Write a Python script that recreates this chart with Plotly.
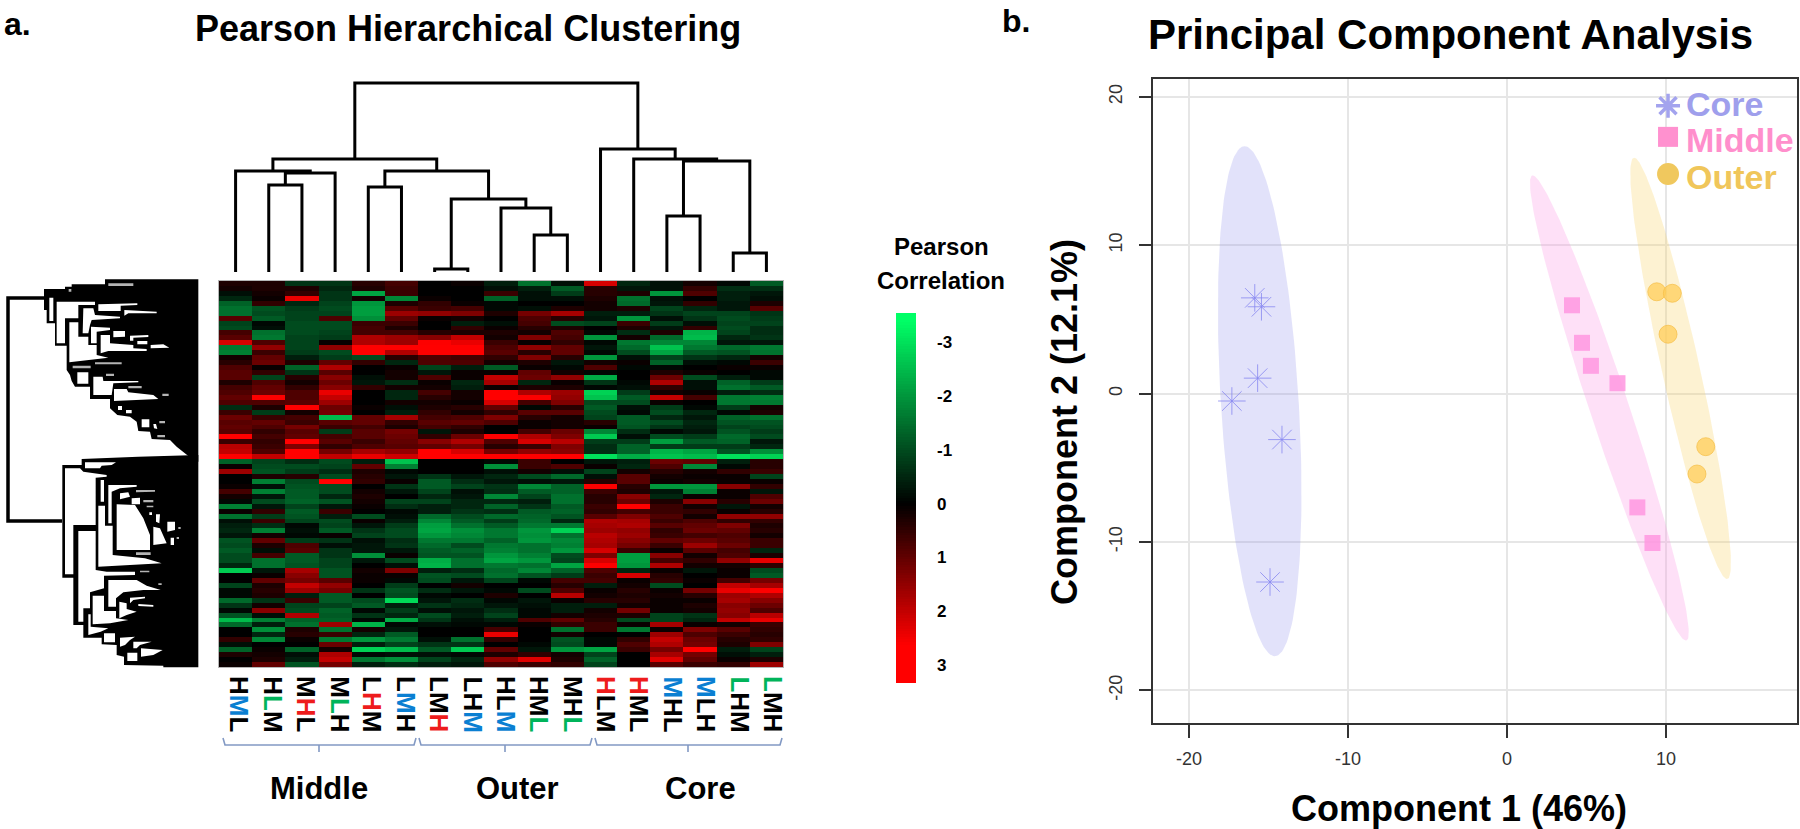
import numpy as np
import plotly.graph_objects as go

FONT = "Liberation Sans"
W, H = 1800, 829

# ---------- heat map values (rows top to bottom, 17 columns) ----------
heat_top = [
 [.3,.3,-.7,-.7,.4,.7,0,.1,-.4,-1.5,-.2,2.2,-.5,-.2,.2,-.1,-1.2],
 [.2,.3,.3,-.5,.3,.6,0,0,-.2,-.4,-1.2,.4,-.3,-.2,.5,-.6,-.6],
 [-.2,.2,.5,-.7,-2.2,.6,0,0,.6,-.2,-.8,.4,.3,-2,.8,-.4,-.3],
 [-.5,.1,2.4,-.7,.2,-1.8,.1,0,-1.3,-.2,-.2,.3,-1.5,-.2,0,-.4,-.2],
 [-1.3,.5,-.5,-.9,-2,.3,.5,.1,-.1,0,0,.2,-1.4,-.3,.5,-.3,.3],
 [-1.5,-1.1,-.8,-1,-2.1,.9,.6,.7,-.1,-.2,.3,.2,.3,-.9,-.5,-.3,.9],
 [-1.5,-1,-.9,-.9,-2.1,1.6,1.5,1.3,.3,1.2,1.7,-.4,-.4,-.7,-.9,-.9,-.7],
 [.9,-1.2,-.9,.8,-1.9,1,.1,.2,0,.8,.4,-.3,-2,-.2,-.7,-1,-.8],
 [-.9,-.1,-1,-1,.6,.6,0,-.4,-.2,.7,-1,-.9,.6,-.8,-.2,-.9,-.9],
 [-1,-.2,-1,-1,.7,.3,0,.5,.1,.4,.3,0,.3,-.3,.5,-1,-.6],
 [.7,-1.5,-1,-.9,.7,.7,.4,.3,.3,.2,.8,-.1,-.6,.3,-2.4,-.9,-.6],
 [.9,-1.6,-.9,-.8,1.8,1.6,1.4,2,.2,1.3,.7,-2,.2,-1.4,-2.5,-.5,-.7],
 [2.2,.8,-.9,.1,1.8,1.6,2.6,2.4,.6,.1,.5,-.1,-1.6,-1.8,-1.8,-.3,-.3],
 [-1.6,1.5,-.9,1.5,3,2.8,3,3,.8,1.5,1,-.3,-1.4,-2.6,-1.6,-1.4,-1.6],
 [-1.7,.6,-.8,-1,2.6,1.8,2.6,2.8,.9,.4,1,-.1,-1,-2.2,-1.2,-1.1,-1.5],
 [.2,1,-.4,-.8,-1,.4,.8,.7,.5,1.3,.4,-2,-.2,-.9,-.7,-.5,.2],
 [.4,1.1,.3,1,.5,-.5,.8,.8,.2,.3,-.3,.2,.1,-1.3,-.2,-.1,.6],
 [.8,.1,-1.3,1.8,0,.1,-.9,-.4,-1.2,.1,-.1,.8,-.1,-.1,0,.1,.1],
 [.9,.5,-.7,.9,0,.2,-.3,.1,.1,1,.2,-.1,0,.3,.1,0,-.1],
 [.9,-.9,.4,1.4,-.2,.2,.8,.1,2,1.1,1.5,-2.3,0,1.1,-1,-.4,-.1],
 [.3,.8,.2,1.1,-.3,-.6,.1,-.5,1.7,-.5,.1,-.7,-.1,1.8,-.2,-1.3,-.8],
 [.7,1,.5,1.4,.5,.2,.2,-.4,.1,.3,.3,-.1,-.2,.5,-.2,-1.5,-1.2],
 [.8,1.1,.8,2.4,0,-.5,.7,.2,3,1.8,1.6,-2.8,-.8,.2,.1,-.4,-.6],
 [1,2.6,.8,2,0,-.5,.4,.2,3,2.6,1.5,-2.6,-1.2,2,.7,-1.6,-1.7],
 [.8,.8,.9,1.6,0,.2,.2,.1,2.2,.7,1.3,-1,-1,.1,0,-1.6,-1.6],
 [-.6,.3,2.9,1.1,.1,-.2,.3,.4,1,-.1,.4,-1.2,-.2,-.8,-.1,-.8,.2],
]
heat_mid = [
 [.6,-.8,.2,1.2,0,-.4,.5,.2,.5,.9,.9,-1,-.1,-1,-.5,-.1,.3],
 [1.1,.6,.7,-2.5,1,1.7,.7,.8,1.3,.4,.2,-.9,-1.2,-.5,-.3,-1.3,-1.5],
 [.9,1,.6,.9,1,.5,.9,1,.8,.1,.2,.4,-1.2,-1,-.5,-1.1,-1.1],
 [1,.8,1.2,.6,.7,.3,.7,.5,0,.1,.2,.1,-1.1,-.7,-.4,-.9,-1],
 [.9,.5,.9,-.8,.9,1.2,-.3,.3,0,.7,1.1,-1.8,-.6,-.1,-.3,-1.1,-.8],
 [2.8,.7,1,.7,.9,1.1,.5,1.1,2.6,1.8,1.3,-2.7,-.2,-1,-.8,-1.4,-1],
 [.6,.5,2.9,.9,.6,1,1.4,1.8,.8,2.2,1.9,-.8,-.8,-2.1,-1.2,-1.3,-.3],
 [1.9,.6,1.3,.5,.8,.9,1,1.2,.4,.6,1.3,-.6,-1.3,-.8,-.8,-.8,-.5],
 [2,.8,2.9,1.2,1.7,1.5,2.9,2.2,1.2,1.5,1.4,-.6,-1.3,-2.4,-2.2,-1.1,-1.9],
 [3,2,2.7,2,2.4,2.1,3,3,2.7,3,3,-3,-2.3,-2.6,-2.5,-3,-2.8],
 [-1.3,-.9,-.6,-1,-.4,-2.6,0,0,-.1,.6,0,-.3,-.4,1.1,1,-.4,.4],
 [.1,-1,-1,-.9,1,-1.7,0,0,-1.9,.6,.8,.1,-.5,.8,-1.8,-.1,.4],
 [1.6,-1.1,-.8,-.6,.3,-.1,0,0,-.2,.2,-.2,-.9,.2,.4,.2,.5,.6],
 [0,.3,.4,-1,.4,-.3,-.7,-.3,-.5,-1,-1.4,-.2,.9,.2,.1,.1,-.9],
 [0,-1.7,-1,2.8,.5,.1,-1.2,-.6,-.3,-.2,-.3,.4,.9,.1,.2,.1,.1],
 [.1,-.2,-1.1,-1,0,-.7,-1.2,-.9,-.7,-1.8,-1.3,2.6,.4,-2,-2,1.4,.5],
 [.7,-1.7,-1.2,-1,.2,-.3,-.9,-.2,-.6,-1.2,-1.3,.6,.3,-.3,-1.7,.1,-.3],
 [.2,-.3,-1.2,-.5,.3,0,-.5,-.3,-1.8,-.9,-1.5,.4,1.4,-.5,.1,.1,.8],
 [-.1,-1,-1.3,-1.1,.2,-.9,-.9,-.5,-.5,-.4,-1.5,.4,1.1,.3,1.4,.4,1.1],
 [-1.7,-.3,-.9,-.3,.1,-.6,-.4,-.5,-1.3,-.7,-1.2,.6,2.8,.6,.2,-.3,.2],
 [.1,.5,-1.2,.6,0,-.1,-.4,-.7,-.6,-1.2,-1.3,.5,.7,.6,.5,.1,.4],
 [-1.5,-.8,-1.1,-.4,-1,-.2,-1.4,-1,-1.4,-1.3,-1.1,.9,1.3,.8,.2,1.5,1.5],
 [-.2,.6,-.9,-1,.1,-.4,-1.8,-1.2,-.8,-1.4,-.5,1.8,1.7,.6,.8,.5,.5],
 [-.4,-.6,-.1,-.9,-.3,-.8,-2.1,-1.5,-1.2,-1.6,-1.6,1.7,1.8,.9,1,1.3,.3],
 [-.5,-1.7,-.2,-1.2,-.7,-1,-2.2,-1.9,-1.6,-2,-2.8,1.6,1.5,.5,1.1,1,.4],
 [-.3,.2,-.1,.1,-.9,-1,-2,-1.8,-1.6,-1.9,-1.5,1.9,1.6,.6,.7,.8,.2],
]
heat_low = [
 [-1.1,1,-.8,-.7,-.2,-.6,-1.6,-1.6,-1.3,-2,-1.8,1.8,1.4,1,1.1,.9,.6],
 [-1,.3,.8,-.2,-.3,-.7,-1.4,-1,-1.6,-1.5,-1.7,1.7,1.2,.6,1.6,1.1,.6],
 [-1.2,-.2,.9,-.7,-.3,-.3,-1.2,-1.3,-1.7,-1.5,-2,2.2,.6,.1,.9,.7,-.5],
 [-1,.7,-1.2,-.7,-1.9,.1,-1.1,-1.1,-2,-1.7,-1,1.3,-2.1,1.4,.2,.8,.3],
 [-1,-1.5,-1.2,-.9,-.3,-1,-2.3,-1.5,-2.2,-2,-.9,2.2,-2.1,.7,.5,1.5,2.4],
 [-.5,-1.5,-1.1,-.9,0,-.2,-2.4,-1.5,-1.6,-1.5,-2.2,2.6,-2,1.8,.2,.2,.5],
 [-2.7,-.3,1.7,-1.1,.2,1.3,-.4,-.6,-1.4,-1.8,-1.3,.8,-.5,.1,-.3,.1,-1],
 [0,.1,1.4,-1.1,.1,.1,-1.1,-1,-1.5,-1.1,-.8,.6,2.2,.4,0,.1,-1.2],
 [0,1,1.2,.9,.1,-.1,-1,-.3,-.9,-.1,.7,.7,.1,.5,.1,.7,1.2],
 [-.9,.3,2,1.5,0,-.8,0,.2,0,0,.4,-.4,.2,-1,0,2,1.7],
 [-.1,.4,1.6,1.2,-.7,-1.1,-.6,-.3,-.1,-1,.8,.1,.4,.1,1.2,2.4,3],
 [-.1,.3,-.4,-1.2,0,-1,-.1,0,.3,0,1.9,.2,.3,.2,.4,1.6,1.8],
 [-1.4,-.7,.6,-1.2,-1,-2.9,-.3,-.6,-.1,-.3,.1,.4,.4,.1,.1,1.7,1.4],
 [-.7,.2,-.9,-.9,-1.2,-.4,-.7,-.5,-.3,-.2,-.4,-.4,.2,.1,.3,1.4,1.1],
 [-.1,1.4,-1,-1.3,-.1,-.8,-.2,-.3,-.6,-.1,-.4,.2,1.2,.1,.2,1.5,.8],
 [-1.1,-.2,1.8,-1.2,-.7,-.5,-1,-.4,-.9,-.1,.2,.3,.3,-.9,-.7,1.4,1.9],
 [-2.5,-1.7,-1.3,-1.3,-.1,-2.3,-.7,-.2,-.4,.8,1,.4,-1,-.9,-.5,2,2.4],
 [-1.4,-.4,-1.5,1.6,-2.4,-.1,-.2,-.1,-.1,.1,.5,.6,.1,1.7,.1,.2,.6],
 [0,-1.9,.3,-1.5,.2,-.3,0,0,.7,0,-1.5,.6,-1.6,.1,1.3,.9,.5],
 [0,-.5,.4,.6,-.5,-1.2,0,0,2.4,0,.2,0,0,1.6,.8,.6,.4],
 [.5,-1.8,.1,-1.6,-2,-1.6,-.2,-1.5,.5,0,-1.1,-.1,.5,2,1.1,.4,.5],
 [-.2,0,0,1.1,-.4,-.9,-.7,-.7,0,-.1,-1,-.1,.8,1.8,1.2,.3,1.3],
 [-1.3,.1,-1.3,.2,-2.8,-2.5,-1.2,-2.7,1,-.3,-2,-2.2,.6,1.2,3,-.4,-.9],
 [.3,.2,-.2,1.8,-.1,-.2,-.2,-.1,.3,.5,.2,-.9,0,1.7,1.2,-.2,-.4],
 [0,.3,-.4,2,-1.6,-1.9,-.9,-.5,1.5,2.3,.3,-1.3,0,2.3,1,.1,.3],
 [.1,1,-1.1,1.2,-.4,-.6,-.4,-.3,.8,.6,.5,-.9,0,.9,.6,.5,1.6],
]
heat_rows = heat_top + heat_mid + heat_low
corr_ticks = [-3, -2, -1, 0, 1, 2, 3]
corr_labels = ["-3", "-2", "-1", "0", "1", "2", "3"]
BLUE, RED_L, GREEN_L, BLK = "#0a7fd2", "#ee1c1c", "#00b45a", "#000000"
column_letters = ["HML","HLM","MHL","MLH","LHM","LMH","LMH","LHM","HLM","HML","MHL","HLM","HML","MHL","MLH","LHM","LMH"]
column_accent = [1,1,1,1,1,1,2,2,2,2,2,0,0,0,0,0,0]
label_px = [239,272.7,306,339.7,372,406,439,472.5,506,539,573,606,639,672.6,706,739.6,773]
groups = ["Middle", "Outer", "Core"]
group_label_px = [319, 517, 700]
bracket_edges_px = [(223, 416, 319), (419, 592, 505), (595, 782, 688)]

# ---------- column tree: leaves 0..16, nodes 17.. ; (left, right, height) ----------
column_merges = [
 (1,2,87),(17,3,99),(0,18,101),(4,5,85),(6,7,3),(9,10,37),(8,22,64),(21,23,73),
 (20,24,101),(19,25,113),(13,14,56),(15,16,19),(27,28,111),(12,29,113),(11,30,123),(26,31,189),
]

# ---------- row tree silhouette, read in zoom units ----------
tree_up_outline = [(225,13),(505,13),(505,560),(325,548),(475,543),(440,515),(420,495),(365,492),(360,470),(325,468),(320,440),(300,425),(262,420),(240,400),(240,372),(180,372),(180,335),(135,335),(125,318),(120,300),(110,285),(110,212),(75,212),(75,145),(50,145),(50,105),(42,105),(42,42),(105,42),(105,35),(125,35),(125,28),(225,28)]
tree_up_holes = [
 [(58,68),(70,68),(70,138),(58,138)],
 [(80,80),(195,80),(195,90),(145,90),(145,130),(105,130),(105,205),(80,205)],
 [(118,142),(145,142),(145,185),(175,185),(175,210),(200,210),(200,240),(235,248),(118,262)],
 [(160,100),(190,100),(195,120),(270,125),(270,130),(185,135),(180,150),(175,175),(158,175)],
 [(205,88),(322,85),(322,90),(272,92),(272,108),(205,108)],
 [(283,105),(380,110),(380,115),(295,115),(283,122)],
 [(183,155),(240,158),(240,165),(200,170),(200,205),(183,205)],
 [(250,168),(285,168),(285,185),(250,187)],
 [(212,180),(240,180),(240,205),(310,210),(310,220),(350,222),(350,228),(235,228),(212,235)],
 [(300,182),(355,180),(355,186),(310,188),(310,197),(300,197)],
 [(322,198),(352,198),(352,208),(322,208)],
 [(362,210),(400,208),(418,218),(362,220)],
 [(142,292),(175,292),(175,326),(142,326)],
 [(190,305),(218,305),(220,318),(325,318),(325,322),(250,325),(245,360),(190,360)],
 [(252,342),(290,342),(295,352),(370,360),(385,372),(252,378)],
 [(264,393),(276,393),(276,405),(264,405)],
 [(288,405),(305,405),(305,415),(288,415)],
 [(335,433),(358,433),(358,457),(335,457)],
 [(370,447),(378,447),(382,462),(372,460)],
]
tree_up_slivers = [
 [(235,25),(310,25),(310,33),(235,33)],[(116,42),(124,42),(124,50),(116,50)],
 [(195,262),(275,262),(275,268),(195,268)],[(128,272),(182,272),(182,280),(128,280)],
 [(228,296),(252,296),(252,303),(228,303)],[(295,333),(335,333),(335,340),(295,340)],
 [(397,356),(416,356),(416,363),(397,363)],[(388,438),(405,438),(405,445),(388,445)],
 [(382,480),(405,480),(405,487),(382,487)],
]
tree_low_outline = [(325,5),(505,0),(505,637),(400,637),(400,632),(282,630),(282,605),(260,600),(260,570),(215,568),(215,548),(160,548),(160,510),(130,510),(130,368),(97,368),(97,30),(155,30),(155,12)]
tree_low_holes = [
 [(165,22),(258,22),(245,30),(215,32),(210,40),(165,40)],
 [(105,40),(150,40),(160,50),(230,60),(230,65),(197,68),(197,210),(130,210),(130,358),(105,358)],
 [(145,228),(197,228),(197,345),(230,350),(315,350),(315,360),(222,362),(222,400),(180,412),(180,460),(160,460),(160,500),(145,500)],
 [(212,75),(222,75),(222,140),(212,140)],
 [(205,152),(225,152),(225,212),(248,212),(248,300),(310,305),(345,310),(395,325),(232,332),(205,335)],
 [(235,90),(320,90),(320,95),(270,100),(245,110),(245,205),(235,205)],
 [(270,115),(295,112),(300,125),(270,133)],
 [(305,130),(330,128),(330,148),(305,148)],
 [(260,148),(315,150),(340,190),(360,240),(360,285),(260,285)],
 [(358,172),(366,172),(366,180),(358,180)],
 [(378,178),(390,178),(388,205),(378,200)],
 [(370,215),(390,220),(410,265),(370,270)],
 [(412,200),(435,200),(435,225),(412,230)],
 [(422,248),(432,248),(432,270),(422,270)],
 [(235,375),(320,375),(350,392),(392,405),(340,405),(280,412),(258,430),(258,455),(235,455)],
 [(188,422),(222,422),(222,468),(258,468),(258,490),(295,495),(240,505),(188,508)],
 [(300,428),(345,425),(345,430),(310,435),(300,445)],
 [(268,440),(290,445),(290,462),(320,470),(290,480),(268,490)],
 [(325,447),(370,450),(370,455),(325,453)],
 [(175,478),(182,478),(182,515),(235,520),(212,530),(175,540)],
 [(222,535),(255,535),(255,562),(222,562)],
 [(270,548),(315,545),(300,555),(285,570),(270,575)],
 [(310,560),(365,560),(330,570),(320,580),(310,580)],
 [(333,580),(398,585),(370,600),(333,605)],
 [(292,593),(322,593),(322,618),(292,618)],
]
tree_low_slivers = [
 [(318,105),(375,105),(375,110),(318,112)],[(340,135),(370,135),(370,142),(340,142)],
 [(350,152),(370,152),(370,157),(350,157)],[(445,216),(452,216),(452,222),(445,222)],
 [(440,246),(447,246),(447,252),(440,252)],[(318,292),(362,292),(362,300),(318,300)],
 [(330,347),(358,347),(358,352),(330,352)],[(385,385),(395,385),(395,390),(385,390)],
]
tree_root_x = [44, 8, 8, 62]
tree_root_y = [298, 298, 521, 521]

# ---------- PCA ----------
core_x = [-15.86,-15.44,-15.68,-17.3,-14.15,-14.9]
core_y = [6.45,5.85,1.04,-0.5,-3.1,-12.7]
middle_x = [4.09,4.72,5.28,6.95,8.2,9.15]
middle_y = [5.95,3.42,1.87,0.7,-7.67,-10.07]
outer_x = [9.42,10.4,10.13,12.5,11.95]
outer_y = [6.86,6.76,4.0,-3.58,-5.42]
core_ellipse = ((-16.5,16.67),(-14.6,-17.7),2.45)
middle_ellipse = ((1.62,14.7),(11.26,-16.65),1.3)
outer_ellipse = ((8.0,15.9),(13.84,-12.5),1.22)
pca_xticks = [-20,-10,0,10]
pca_xlabels = ["-20","-10","0","10"]
pca_yticks = [-20,-10,0,10,20]
pca_ylabels = ["-20","-10","0","10","20"]
legend_names = ["Core","Middle","Outer"]
legend_x = [10.13,10.13,10.13]
legend_y = [19.4,17.3,14.8]

fig = go.Figure()

def px(a, b):
    return [a / W, b / W]
def py(top, bottom):
    return [1 - bottom / H, 1 - top / H]

HM_L, HM_R, HM_T, HM_B = 219, 783, 281, 667

scale = [[0, "#00ff66"], [0.5, "#000000"], [0.885, "#ff0000"], [1, "#ff0000"]]
fig.add_trace(go.Heatmap(z=heat_rows, x=list(range(17)), y=list(range(len(heat_rows))),
                         zmin=-3.4, zmax=3.4, colorscale=scale, showscale=False,
                         xaxis="x", yaxis="y", hoverinfo="skip"))

pos = {i: i for i in range(17)}
tops = {i: 0 for i in range(17)}
tx, ty = [], []
for n, (a, b, h) in enumerate(column_merges):
    tx += [pos[a], pos[a], pos[b], pos[b], None]
    ty += [tops[a], h, h, tops[b], None]
    pos[17 + n] = (pos[a] + pos[b]) / 2
    tops[17 + n] = h
fig.add_trace(go.Scatter(x=tx, y=ty, mode="lines", line=dict(color="black", width=3), xaxis="x2", yaxis="y2", hoverinfo="skip", showlegend=False))

levels = np.linspace(-3.54, 3.33, 140)
fig.add_trace(go.Heatmap(z=[[v] for v in levels], x=[0], y=levels, zmin=-3.4, zmax=3.4, colorscale=scale,
                         showscale=False, xaxis="x3", yaxis="y3", hoverinfo="skip"))

def up(poly):
    return [30 + p[0] / 3 for p in poly], [275 + p[1] / 3 for p in poly]
def low(poly):
    return [30 + p[0] / 3 for p in poly], [455 + p[1] / 3 for p in poly]
def polys(lst, f):
    xs, ys = [], []
    for p in lst:
        a, b = f(p)
        xs += a + [a[0], None]
        ys += b + [b[0], None]
    return xs, ys
def fill_trace(xs, ys, color):
    fig.add_trace(go.Scatter(x=xs, y=ys, mode="lines", fill="toself", fillcolor=color, line=dict(width=0, color=color),
                             xaxis="x5", yaxis="y5", hoverinfo="skip", showlegend=False))
xs, ys = polys([tree_up_outline], up); fill_trace(xs, ys, "#000000")
xs, ys = polys([tree_low_outline], low); fill_trace(xs, ys, "#000000")
xs, ys = polys(tree_up_holes, up); fill_trace(xs, ys, "#ffffff")
xs, ys = polys(tree_low_holes, low); fill_trace(xs, ys, "#ffffff")
xs, ys = polys(tree_up_slivers, up); fill_trace(xs, ys, "#b4b4b4")
xs, ys = polys(tree_low_slivers, low); fill_trace(xs, ys, "#b4b4b4")
fig.add_trace(go.Scatter(x=tree_root_x, y=tree_root_y, mode="lines", line=dict(color="black", width=3.5), xaxis="x5", yaxis="y5", hoverinfo="skip", showlegend=False))

bx, by = [], []
for l, r, m in bracket_edges_px:
    bx += [l, l + 2, r - 2, r, None, m, m, None]
    by += [738, 745, 745, 738, None, 745, 752, None]
fig.add_trace(go.Scatter(x=bx, y=by, mode="lines", line=dict(color="#8299c4", width=1.6), xaxis="x5", yaxis="y5", hoverinfo="skip", showlegend=False))

def ellipse(spec):
    (tx_, ty_), (bx_, by_), hw = spec
    c = np.array([(tx_ + bx_) / 2, (ty_ + by_) / 2])
    a = np.array([tx_ - bx_, ty_ - by_]) / 2
    t = np.linspace(0, 2 * np.pi, 180)
    return c[0] + a[0] * np.cos(t) + hw * np.sin(t), c[1] + a[1] * np.cos(t)
for spec, col in [(core_ellipse, "rgba(140,140,235,0.25)"), (middle_ellipse, "rgba(250,140,225,0.27)"), (outer_ellipse, "rgba(248,208,90,0.27)")]:
    ex, ey = ellipse(spec)
    fig.add_trace(go.Scatter(x=ex, y=ey, mode="lines", fill="toself", fillcolor=col, line=dict(width=0), xaxis="x4", yaxis="y4", hoverinfo="skip", showlegend=False))
core_col = "rgba(135,135,240,0.8)"
fig.add_trace(go.Scatter(x=core_x, y=core_y, mode="markers", marker=dict(symbol="asterisk-open", size=23, color=core_col, line=dict(color=core_col, width=1)), xaxis="x4", yaxis="y4", hoverinfo="skip", showlegend=False))
fig.add_trace(go.Scatter(x=middle_x, y=middle_y, mode="markers", marker=dict(symbol="square", size=16, color="rgba(255,150,225,0.85)"), xaxis="x4", yaxis="y4", hoverinfo="skip", showlegend=False))
fig.add_trace(go.Scatter(x=outer_x, y=outer_y, mode="markers", marker=dict(symbol="circle", size=18, color="rgba(255,205,90,0.75)", line=dict(color="rgba(245,190,70,0.7)", width=1)), xaxis="x4", yaxis="y4", hoverinfo="skip", showlegend=False))
fig.add_trace(go.Scatter(x=legend_x[:1], y=legend_y[:1], mode="markers", marker=dict(symbol="asterisk-open", size=20, color="#a3a3ee", line=dict(color="#a3a3ee", width=3.5)), xaxis="x4", yaxis="y4", hoverinfo="skip", showlegend=False))
fig.add_trace(go.Scatter(x=legend_x[1:2], y=legend_y[1:2], mode="markers", marker=dict(symbol="square", size=20, color="#ff91cf"), xaxis="x4", yaxis="y4", hoverinfo="skip", showlegend=False))
fig.add_trace(go.Scatter(x=legend_x[2:], y=legend_y[2:], mode="markers", marker=dict(symbol="circle", size=22, color="#f0c85e"), xaxis="x4", yaxis="y4", hoverinfo="skip", showlegend=False))

ann = []
def text(x, y, s, size, bold=True, color="#000000", angle=0, anchor="center"):
    ann.append(dict(x=x / W, y=1 - y / H, xref="paper", yref="paper", text=f"<b>{s}</b>" if bold else s, showarrow=False,
                    font=dict(family=FONT, size=size, color=color), textangle=angle, xanchor=anchor, yanchor="middle"))
text(2, 24, "a.", 32, anchor="left")
text(1000, 21, "b.", 32, anchor="left")
text(468, 29, "Pearson Hierarchical Clustering", 36)
text(1450, 35, "Principal Component Analysis", 42)
text(941, 247, "Pearson", 24)
text(941, 280, "Correlation", 24)
ACC_COL = {"H": RED_L, "M": BLUE, "L": GREEN_L}
for i, word in enumerate(column_letters):
    k = column_accent[i]
    s = "".join(f'<span style="color:{ACC_COL[ch] if j == k else BLK}">{ch}</span>' for j, ch in enumerate(word))
    text(label_px[i], 704, s, 26, bold=True, angle=90)
for g, off in zip(groups, group_label_px):
    text(off, 788, g, 31)
text(1459, 808, "Component 1 (46%)", 36)
text(1064, 422, "Component 2 (12.1%)", 36, angle=-90)
for n, c, y in zip(legend_names, ["#9f9fec", "#ff8fcc", "#f0c65a"], [104, 140, 177]):
    text(1684, y, n, 34, color=c, anchor="left")

noax = dict(showgrid=False, zeroline=False, showticklabels=False, ticks="", showline=False, fixedrange=True)
fig.update_layout(
    width=W, height=H, margin=dict(l=0, r=0, t=0, b=0, pad=0), autosize=False,
    paper_bgcolor="white", plot_bgcolor="rgba(0,0,0,0)", showlegend=False, annotations=ann,
    font=dict(family=FONT),
    xaxis=dict(noax, domain=px(HM_L, HM_R), range=[-.5, 16.5], anchor="y", showline=True, mirror=True, linecolor="#b5b5b5", linewidth=1),
    yaxis=dict(noax, domain=py(HM_T, HM_B), range=[77.5, -.5], anchor="x", showline=True, mirror=True, linecolor="#b5b5b5", linewidth=1),
    xaxis2=dict(noax, domain=px(HM_L, HM_R), range=[-.5, 16.5], anchor="y2"),
    yaxis2=dict(noax, domain=py(72, 272), range=[0, 200], anchor="x2"),
    xaxis3=dict(noax, domain=px(896, 916), range=[-.5, .5], anchor="y3"),
    yaxis3=dict(zeroline=False, showgrid=False, domain=py(313, 683), range=[3.33, -3.54], anchor="x3", side="right",
                tickvals=corr_ticks, ticktext=corr_labels, ticks="", ticklabelstandoff=20, showline=False, fixedrange=True,
                tickfont=dict(family=FONT, size=17, color="#000", weight=700)),
    xaxis4=dict(domain=px(1153, 1797), range=[-22.26, 18.24], anchor="y4", tickvals=pca_xticks, ticktext=pca_xlabels, showgrid=True, gridcolor="#e6e6e6", gridwidth=2,
                zeroline=False, showline=True, mirror=True, linecolor="#333", linewidth=2, ticks="outside", ticklen=13, tickwidth=2, tickcolor="#333",
                tickfont=dict(family=FONT, size=18, color="#333"), ticklabelstandoff=5, fixedrange=True),
    yaxis4=dict(domain=py(79, 723), range=[-22.2, 21.2], anchor="x4", tickvals=pca_yticks, ticktext=pca_ylabels, showgrid=True, gridcolor="#e6e6e6", gridwidth=2,
                zeroline=False, showline=True, mirror=True, linecolor="#333", linewidth=2, ticks="outside", ticklen=12, tickwidth=2, tickcolor="#333",
                tickfont=dict(family=FONT, size=18, color="#333"), tickangle=-90, ticklabelstandoff=10, fixedrange=True),
    xaxis5=dict(noax, domain=[0, 1], range=[0, W], anchor="y5"),
    yaxis5=dict(noax, domain=[0, 1], range=[H, 0], anchor="x5"),
)
fig.write_html("out.html", config=dict(displayModeBar=False), post_script="document.body.style.margin='0';")
